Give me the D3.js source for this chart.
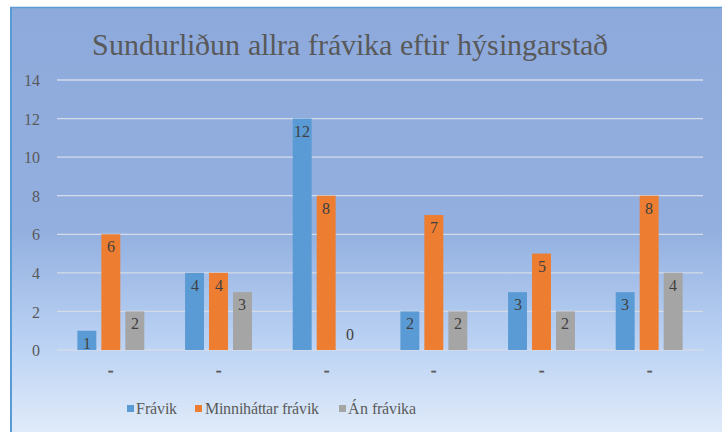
<!DOCTYPE html>
<html><head><meta charset="utf-8">
<script src="https://cdn.jsdelivr.net/npm/d3@7"></script>
<style>
@font-face { font-family: "ChartSerif"; src: local("Liberation Serif"), local("LiberationSerif"), local("LiberationSerif-Regular"), local("Times New Roman"); }
svg text { font-family: "ChartSerif", "Liberation Serif", "Times New Roman", serif !important; }
</style>
</head>
<body style="margin:0">
<script>
const title = "Sundurliðun allra frávika eftir hýsingarstað";
const categories = ["-", "-", "-", "-", "-", "-"];
const seriesNames = ["Frávik", "Minniháttar frávik", "Án frávika"];
const fravik = [1, 4, 12, 2, 3, 3];
const minnihattar = [6, 4, 8, 7, 5, 8];
const anFravika = [2, 3, 0, 2, 2, 4];
const yTicks = [0, 2, 4, 6, 8, 10, 12, 14];
const colors = ["#5b9bd5", "#ed7d31", "#a5a5a5"];

const W = 722, H = 432;
const font = "'Liberation Serif', serif";
const svg = d3.select("body").append("svg").attr("width", W).attr("height", H)
  .style("display", "block").attr("font-family", font);
const defs = svg.append("defs");
const grad = defs.append("linearGradient").attr("id", "bg").attr("x1", 0).attr("y1", 0).attr("x2", 0).attr("y2", 1);
grad.append("stop").attr("offset", "0").attr("stop-color", "#8eaadc");
grad.append("stop").attr("offset", "0.52").attr("stop-color", "#92afdf");
grad.append("stop").attr("offset", "0.8").attr("stop-color", "#bcd3f4");
grad.append("stop").attr("offset", "1").attr("stop-color", "#e0ebf9");

svg.append("rect").attr("x", 11).attr("y", 8).attr("width", W - 11).attr("height", H - 8).attr("fill", "url(#bg)");
svg.append("line").attr("x1", 11).attr("x2", 11).attr("y1", 7).attr("y2", H).attr("stroke", "#5b9bd5").attr("stroke-width", 2);
svg.append("line").attr("x1", 10).attr("x2", W).attr("y1", 7.5).attr("y2", 7.5).attr("stroke", "#5b9bd5").attr("stroke-width", 1.5);

const textColor = "#595959";

svg.append("text").attr("x", 350).attr("y", 55).attr("text-anchor", "middle")
  .attr("font-size", 29.5).attr("fill", textColor).text(title);

const x0 = d3.scaleBand().domain(d3.range(categories.length)).range([57, 703]);
const y = d3.scaleLinear().domain([0, 14]).range([350, 80]);

const grid = svg.append("g");
yTicks.forEach(t => {
  grid.append("line").attr("x1", 57).attr("x2", 703).attr("y1", y(t)).attr("y2", y(t))
    .attr("stroke", "#d4dbe9").attr("stroke-width", 1.3);
});

const yAxis = d3.axisLeft(y).tickValues(yTicks).tickSize(0).tickPadding(0);
const ya = svg.append("g").attr("transform", "translate(40,0)").call(yAxis);
ya.select(".domain").remove();
ya.attr("font-family", font).attr("font-size", 16);
ya.selectAll("text").attr("fill", textColor).attr("dy", "0.35em");

const xAxis = d3.axisBottom(x0).tickFormat(i => categories[i]).tickSize(0).tickPadding(0);
const xa = svg.append("g").attr("transform", "translate(0,364)").call(xAxis);
xa.select(".domain").remove();
xa.attr("font-family", font).attr("font-size", 16);
xa.selectAll("text").attr("fill", textColor).attr("font-weight", "bold");

const data = [fravik, minnihattar, anFravika];
const x1 = d3.scaleBand().domain([0, 1, 2]).range([0, x0.bandwidth()]).paddingInner(0.21).paddingOuter(0.85);

data.forEach((vals, s) => {
  const g = svg.append("g");
  vals.forEach((v, i) => {
    const bx = x0(i) + x1(s);
    const bw = x1.bandwidth();
    if (v > 0) {
      g.append("rect").attr("x", bx).attr("y", y(v)).attr("width", bw).attr("height", y(0) - y(v))
        .attr("fill", colors[s]);
    }
    g.append("text").attr("x", bx + bw / 2).attr("y", v > 0 ? y(v) + 18 : y(0) - 10)
      .attr("text-anchor", "middle").attr("font-size", 16)
      .attr("fill", "#404040").text(v);
  });
});

const legendItems = [{x: 127, tx: 136}, {x: 195, tx: 205}, {x: 339, tx: 348}];
seriesNames.forEach((n, s) => {
  svg.append("rect").attr("x", legendItems[s].x).attr("y", 405).attr("width", 7).attr("height", 7).attr("fill", colors[s]);
  svg.append("text").attr("x", legendItems[s].tx).attr("y", 414).attr("font-size", 16)
    .attr("fill", textColor).text(n);
});
</script>
</body></html>
